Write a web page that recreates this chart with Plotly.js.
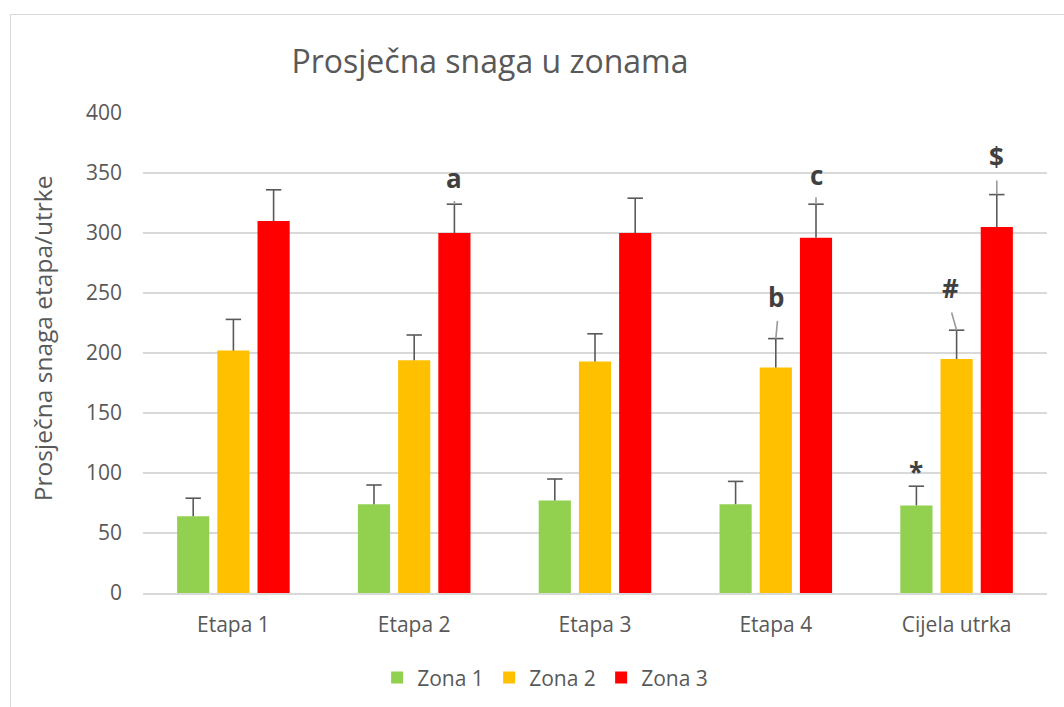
<!DOCTYPE html>
<html>
<head>
<meta charset="utf-8">
<script src="https://cdn.plot.ly/plotly-3.0.1.min.js"></script>
<style>
  html, body { margin:0; padding:0; background:#fff; }
  #frame { position:absolute; left:10px; top:14px; width:1100px; height:800px; border:1.5px solid #d9d9d9; box-sizing:border-box; }
  #chart { position:absolute; left:0; top:0; width:1064px; height:707px; }
</style>
</head>
<body>
<div id="frame"></div>
<div id="chart"></div>
<script>
const categories = ['Etapa 1', 'Etapa 2', 'Etapa 3', 'Etapa 4', 'Cijela utrka'];
const seriesNames = ['Zona 1', 'Zona 2', 'Zona 3'];
const zona1 = [64, 74, 77, 74, 73];
const zona1Err = [15, 16, 18, 19, 16];
const zona2 = [202, 194, 193, 188, 195];
const zona2Err = [26, 21, 23, 24, 24];
const zona3 = [310, 300, 300, 296, 305];
const zona3Err = [26, 24, 29, 28, 27];
const yTicks = [0, 50, 100, 150, 200, 250, 300, 350, 400];
const yTitle = 'Prosječna snaga etapa/utrke';

// significance marks: label, category index, series index, y of label, top of leader line
const markLabels = ['a', 'b', 'c', '*', '#', '$'];
const markCat = [1, 3, 3, 4, 4, 4];
const markSeries = [2, 1, 2, 0, 1, 2];
const markY = [346, 247, 348, 101, 254, 363];
const leaderTop = [328, 228, 331, null, 235, 345];

const colors = ['#92D050', '#FFC000', '#FF0000'];
const values = [zona1, zona2, zona3];
const errs = [zona1Err, zona2Err, zona3Err];
const txt = '#595959';
const font = '"Open Sans", "Noto Sans", sans-serif';

const bargap = 0.333;
const slot = (1 - bargap) / 3;
const idx = categories.map((c, i) => i);

const traces = [];
values.forEach((v, k) => {
  traces.push({
    type: 'bar',
    name: seriesNames[k],
    x: idx,
    y: v,
    marker: { color: colors[k] },
    error_y: { type: 'data', array: errs[k], symmetric: false, arrayminus: errs[k].map(() => 0),
               color: '#595959', thickness: 1.6, width: 0 },
    hoverinfo: 'y'
  });
});
// error bar caps
values.forEach((v, k) => {
  traces.push({
    type: 'scatter', mode: 'markers', showlegend: false, hoverinfo: 'skip',
    x: idx.map(i => i + (k - 1) * slot),
    y: v.map((val, i) => val + errs[k][i]),
    marker: { symbol: 'line-ew-open', size: 11, line: { width: 1.6, color: '#595959' }, color: '#595959' }
  });
});

const annotations = [];
markLabels.forEach((lab, i) => {
  const xc = markCat[i] + (markSeries[i] - 1) * slot;
  const top = values[markSeries[i]][markCat[i]] + errs[markSeries[i]][markCat[i]];
  annotations.push({
    x: xc, y: markY[i], xref: 'x', yref: 'y', text: '<b>' + lab + '</b>',
    showarrow: false, xanchor: 'center', yanchor: 'middle',
    xshift: lab === '#' ? -6 : 0,
    font: { family: font, size: 26, color: '#404040' }
  });
  if (leaderTop[i] !== null) {
    annotations.push({
      x: xc, y: top, xref: 'x', yref: 'y',
      ax: xc + (lab === '#' ? -0.03 : (lab === 'b' ? 0.01 : 0)), ay: leaderTop[i], axref: 'x', ayref: 'y',
      text: '', showarrow: true, arrowhead: 0, arrowwidth: 1.6, arrowcolor: '#9a9a9a', standoff: 0, startstandoff: 0
    });
  }
});
// y-axis title
annotations.push({
  text: yTitle, textangle: -90, xref: 'paper', yref: 'paper',
  x: -0.1117, y: 0.531, xanchor: 'center', yanchor: 'middle', showarrow: false,
  font: { family: font, size: 24.5, color: txt }
});

const layout = {
  width: 1064, height: 707,
  margin: { l: 143, r: 17, t: 113, b: 114, autoexpand: false },
  paper_bgcolor: 'rgba(0,0,0,0)',
  plot_bgcolor: 'rgba(0,0,0,0)',
  font: { family: font, color: txt, size: 21 },
  title: { text: 'Prosječna snaga u zonama', x: 0.4605, xanchor: 'center', y: 0.912, yanchor: 'middle',
           font: { family: font, size: 32, color: txt } },
  barmode: 'group',
  bargap: bargap,
  bargroupgap: 0.2,
  showlegend: true,
  legend: { orientation: 'h', x: 0.259, xanchor: 'left', y: -0.177, yanchor: 'middle',
            font: { family: font, size: 21, color: txt }, itemwidth: 30, traceorder: 'normal',
            entrywidth: 67, entrywidthmode: 'pixels' },
  xaxis: {
    type: 'linear', range: [-0.5, 4.5], tickvals: idx, ticktext: categories,
    showgrid: false, zeroline: false, showline: true, linecolor: '#d9d9d9', linewidth: 1.5,
    ticks: '', ticklabelstandoff: 12,
    tickfont: { family: font, size: 21, color: txt },
    fixedrange: true
  },
  yaxis: {
    range: [0, 400], tickvals: yTicks, ticktext: yTicks.map(String),
    showgrid: true, gridcolor: '#d9d9d9', gridwidth: 1.5, zeroline: false, showline: false,
    ticks: '', ticklabelstandoff: 20,
    tickfont: { family: font, size: 21, color: txt },
    fixedrange: true
  },
  annotations: annotations
};

Plotly.newPlot('chart', traces, layout, { displayModeBar: false, staticPlot: true });
</script>
</body>
</html>
